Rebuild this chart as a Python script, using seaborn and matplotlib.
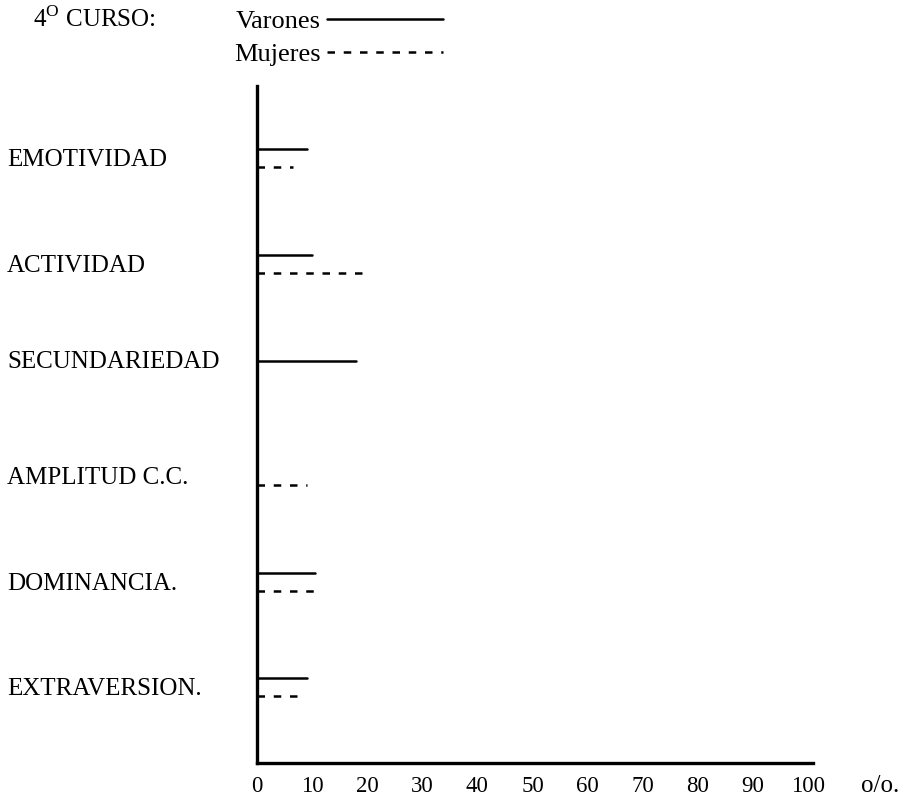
import pandas as pd
import seaborn as sns
import matplotlib.pyplot as plt

# data (percent)
rasgos = ['EMOTIVIDAD', 'ACTIVIDAD', 'SECUNDARIEDAD',
          'AMPLITUD C.C.', 'DOMINANCIA.', 'EXTRAVERSION.']
varones = [9, 10, 18, 0, 10.5, 9]
mujeres = [6.5, 19, 0, 9, 10.5, 8]
x_ticks = [0, 10, 20, 30, 40, 50, 60, 70, 80, 90, 100]

sns.set_style('white')
plt.rcParams['font.family'] = ['Liberation Serif', 'DejaVu Serif']
plt.rcParams['mathtext.fontset'] = 'custom'
plt.rcParams['mathtext.rm'] = 'Liberation Serif'
plt.rcParams['text.color'] = 'black'
plt.rcParams['xtick.color'] = 'black'
plt.rcParams['ytick.color'] = 'black'

# each bar is a horizontal segment from 0 to the value
offsets = {'Varones': -0.08, 'Mujeres': 0.09}
rows = []
for i, r in enumerate(rasgos):
    for sexo, vals in (('Varones', varones), ('Mujeres', mujeres)):
        v = vals[i]
        if v <= 0:
            continue
        y = i + offsets[sexo]
        rows.append({'rasgo': r, 'sexo': sexo, 'pct': 0, 'pos': y})
        rows.append({'rasgo': r, 'sexo': sexo, 'pct': v, 'pos': y})
df = pd.DataFrame(rows)

fig = plt.figure(figsize=(9.07, 8), dpi=100)
ax = fig.add_axes([257 / 907, 37 / 800, 556 / 907, 677 / 800])

sns.lineplot(data=df, x='pct', y='pos', style='sexo', units='rasgo',
             estimator=None, sort=False, color='black', linewidth=1.8,
             style_order=['Varones', 'Mujeres'],
             dashes={'Varones': '', 'Mujeres': (3, 3.5)}, ax=ax)

handles, labels = ax.get_legend_handles_labels()
ax.legend(handles, labels, loc='upper left',
          bbox_to_anchor=(234 / 907, 1 - 10 / 800), bbox_transform=fig.transFigure,
          frameon=False, markerfirst=False, handlelength=4.4,
          handletextpad=0.25, labelspacing=0.35, borderpad=0,
          borderaxespad=0, fontsize=19)

ax.set_xlim(0, 100.9)
ax.set_ylim(5.72, -0.68)
ax.set_xticks(x_ticks)
ax.set_xticklabels([str(t) for t in x_ticks], fontsize=16.5)
# the typed labels are not quite evenly spaced in the original
ax.set_yticks([0, 1, 1.91, 3, 4, 5])
ax.set_yticklabels(rasgos, fontsize=18)
for lbl in ax.get_yticklabels():
    lbl.set_ha('left')
ax.tick_params(axis='y', length=0, pad=180)
ax.tick_params(axis='x', length=0, pad=9)
ax.set_xlabel('')
ax.set_ylabel('')

sns.despine(ax=ax)
for s in ('left', 'bottom'):
    ax.spines[s].set_linewidth(2.4)
    ax.spines[s].set_color('black')

fig.text(33 / 907, 1 - 19 / 800, r'4$^{\mathrm{O}}$ CURSO:', fontsize=18, va='center')
fig.text(880 / 907, 1 - 786 / 800, 'o/o.', fontsize=18, va='center', ha='center')

fig.savefig('out.png', dpi=100)
